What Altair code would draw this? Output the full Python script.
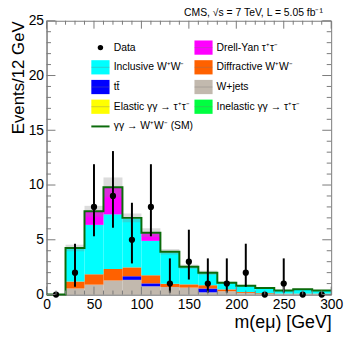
import altair as alt
import pandas as pd

# ---------------- data ----------------
bin_lo = [0, 20, 40, 60, 80, 100, 120, 140, 160, 180, 200, 220, 240, 260, 280]
bin_width = 20

wjets = [0, 0.55, 0.90, 1.28, 1.34, 0.75, 0.69, 0.63, 0.20, 0.30, 0.15, 0.05, 0.05, 0.05, 0.05]
ttbar = [0, 0, 0, 0, 0.33, 0.27, 0, 0, 0.35, 0, 0, 0, 0, 0, 0]
diffractive = [0, 0.64, 0.95, 1.05, 0.81, 0.74, 0.29, 0.30, 0.30, 0.17, 0.08, 0.07, 0.03, 0.03, 0.03]
inclusive = [0, 3.01, 4.51, 4.99, 4.47, 3.14, 2.87, 1.57, 1.10, 0.58, 0.55, 0.46, 0.26, 0.38, 0.26]
drellyan = [0, 0, 1.19, 2.42, 0, 0.70, 0, 0, 0, 0, 0, 0, 0, 0, 0]
elastic_tt = [0] * 15
inelastic_tt = [0] * 15
ggww_sm = [0, 0.05, 0.05, 0.05, 0.05, 0.05, 0.05, 0.03, 0.03, 0.02, 0.02, 0.02, 0.02, 0.02, 0.02]
syst = [0, 0.30, 0.50, 0.90, 0.40, 0.40, 0.25, 0.20, 0.20, 0.10, 0.08, 0.05, 0.05, 0.05, 0.05]

data_counts = [0, 2, 8, 9, 5, 8, 1, 3, 1, 1, 2, 0, 1, 0, 0]
data_lo = [0, 0.71, 5.32, 6.10, 2.84, 5.32, 0.17, 1.37, 0.17, 0.17, 0.71, 0, 0.17, 0, 0]
data_hi = [0, 4.64, 11.9, 13.1, 8.38, 11.9, 3.30, 5.92, 3.30, 3.30, 4.64, 0, 3.30, 0, 0]

comp_names = ["W+jets", "tt\u0304", "Diffractive W\u207aW\u207b", "Inclusive W\u207aW\u207b",
              "Drell-Yan \u03c4\u207a\u03c4\u207b", "Elastic \u03b3\u03b3 \u2192 \u03c4\u207a\u03c4\u207b",
              "Inelastic \u03b3\u03b3 \u2192 \u03c4\u207a\u03c4\u207b"]
comp_values = [wjets, ttbar, diffractive, inclusive, drellyan, elastic_tt, inelastic_tt]
comp_colors = ["#C2B9AE", "#0000FF", "#FF6100", "#00FFFF", "#FF00FF", "#FFFF00", "#00FF40"]
line_label = "\u03b3\u03b3 \u2192 W\u207aW\u207b (SM)"

# legend layout
legend_rows = [
    ("Data", 1, 0, "point"),
    ("Drell-Yan \u03c4\u207a\u03c4\u207b", 2, 0, "rect"),
    ("Inclusive W\u207aW\u207b", 1, 1, "rect"),
    ("Diffractive W\u207aW\u207b", 2, 1, "rect"),
    ("tt\u0304", 1, 2, "rect"),
    ("W+jets", 2, 2, "rect"),
    ("Elastic \u03b3\u03b3 \u2192 \u03c4\u207a\u03c4\u207b", 1, 3, "rect"),
    ("Inelastic \u03b3\u03b3 \u2192 \u03c4\u207a\u03c4\u207b", 2, 3, "rect"),
    (line_label, 1, 4, "line"),
]

# ---------------- build tables ----------------
W, H = 288, 277
XMAX, YMAX = 300, 25
FONT = "Liberation Sans"
AX = "#7a7a7a"

rects = []
cum = [0.0] * len(bin_lo)
for name, vals in zip(comp_names, comp_values):
    for i, v in enumerate(vals):
        if v > 0:
            rects.append(dict(comp=name, x=bin_lo[i], x2=bin_lo[i] + bin_width,
                              y=cum[i], y2=cum[i] + v))
        cum[i] += v
total = [c + g for c, g in zip(cum, ggww_sm)]
rect_df = pd.DataFrame(rects)

band_df = pd.DataFrame([dict(x=bin_lo[i], x2=bin_lo[i] + bin_width,
                             lo=total[i] - syst[i], hi=total[i] + syst[i])
                        for i in range(len(bin_lo)) if total[i] > 0])

line_df = pd.DataFrame(dict(x=bin_lo + [bin_lo[-1] + bin_width], y=total + [total[-1]]))

pts_df = pd.DataFrame(dict(x=[b + bin_width / 2 for b in bin_lo], n=data_counts,
                           lo=data_lo, hi=data_hi))
err_df = pts_df[pts_df["hi"] > 0]

xs = alt.Scale(domain=[0, XMAX], nice=False, zero=False)
ys = alt.Scale(domain=[0, YMAX], nice=False, zero=False)
color_scale = alt.Scale(domain=comp_names, range=comp_colors)

axis_style = dict(grid=False, ticks=False, domainColor=AX, labelFontSize=14, labelFont=FONT,
                  labelColor="black", labelFlush=False, titleFont=FONT,
                  titleFontWeight="normal", titleColor="black", labelPadding=3)
x_axis = alt.Axis(values=list(range(0, 301, 50)), title="m(e\u03bc) [GeV]", titleFontSize=18,
                  titleAnchor="end", titlePadding=2, **axis_style)
y_axis = alt.Axis(values=list(range(0, 26, 5)), title="Events/12 GeV", titleFontSize=17,
                  titleAnchor="end", titlePadding=1, **axis_style)

stack = alt.Chart(rect_df).mark_rect().encode(
    x=alt.X("x:Q", scale=xs, axis=x_axis),
    x2="x2:Q",
    y=alt.Y("y:Q", scale=ys, axis=y_axis),
    y2="y2:Q",
    color=alt.Color("comp:N", scale=color_scale, legend=None),
)

band = alt.Chart(band_df).mark_rect(fill="#8a8a8a", opacity=0.3).encode(
    x=alt.X("x:Q", scale=xs, axis=x_axis), x2="x2:Q",
    y=alt.Y("lo:Q", scale=ys, axis=y_axis), y2="hi:Q")

outline = alt.Chart(line_df).mark_line(interpolate="step-after", color="#0b6b0b",
                                       strokeWidth=2).encode(
    x=alt.X("x:Q", scale=xs, axis=x_axis), y=alt.Y("y:Q", scale=ys, axis=y_axis))

errbars = alt.Chart(err_df).mark_rule(color="black", strokeWidth=2).encode(
    x=alt.X("x:Q", scale=xs, axis=x_axis), y=alt.Y("lo:Q", scale=ys, axis=y_axis), y2="hi:Q")

points = alt.Chart(pts_df).mark_circle(color="black", size=40, opacity=1).encode(
    x=alt.X("x:Q", scale=xs, axis=x_axis), y=alt.Y("n:Q", scale=ys, axis=y_axis))

# ticks (inside, on all four sides)
ymaj = pd.DataFrame(dict(v=list(range(0, 26, 5))))
ymin = pd.DataFrame(dict(v=[v for v in range(0, 26) if v % 5]))
xmaj = pd.DataFrame(dict(v=list(range(0, 301, 50))))
xmin = pd.DataFrame(dict(v=[v for v in range(0, 301, 10) if v % 50]))


def yticks(df, ln):
    base = alt.Chart(df).mark_rule(color=AX, strokeWidth=1)
    return (base.encode(y=alt.Y("v:Q", scale=ys, axis=y_axis), x=alt.value(0), x2=alt.value(ln)) +
            base.encode(y=alt.Y("v:Q", scale=ys, axis=y_axis), x=alt.value(W), x2=alt.value(W - ln)))


def xticks(df, ln):
    base = alt.Chart(df).mark_rule(color=AX, strokeWidth=1)
    return (base.encode(x=alt.X("v:Q", scale=xs, axis=x_axis), y=alt.value(H), y2=alt.value(H - ln)) +
            base.encode(x=alt.X("v:Q", scale=xs, axis=x_axis), y=alt.value(0), y2=alt.value(ln)))


ticks = yticks(ymaj, 9) + yticks(ymin, 4.5) + xticks(xmaj, 8) + xticks(xmin, 4)

# legend (placed inside the frame, in data coordinates)
col_sw = {1: (47.2, 66.4), 2: (155.9, 175.0)}
col_tx = {1: 70.8, 2: 179.2}
row_y = [22.55, 20.75, 18.95, 17.15, 15.35]
half_h = 0.65
leg = []
for label, col, row, kind in legend_rows:
    leg.append(dict(label=label, kind=kind, sx=col_sw[col][0], sx2=col_sw[col][1],
                    sxc=(col_sw[col][0] + col_sw[col][1]) / 2, tx=col_tx[col],
                    yc=row_y[row], ylo=row_y[row] - half_h, yhi=row_y[row] + half_h))
leg_df = pd.DataFrame(leg)

leg_rect = alt.Chart(leg_df[leg_df.kind == "rect"]).mark_rect().encode(
    x=alt.X("sx:Q", scale=xs, axis=x_axis), x2="sx2:Q",
    y=alt.Y("ylo:Q", scale=ys, axis=y_axis), y2="yhi:Q",
    color=alt.Color("label:N", scale=color_scale, legend=None))
leg_mid = alt.Chart(leg_df[leg_df.kind == "rect"]).mark_rule(color="#777", strokeWidth=0.6,
                                                          opacity=0.6).encode(
    x=alt.X("sx:Q", scale=xs, axis=x_axis), x2="sx2:Q", y=alt.Y("yc:Q", scale=ys, axis=y_axis))
leg_pt = alt.Chart(leg_df[leg_df.kind == "point"]).mark_circle(color="black", size=30,
                                                             opacity=1).encode(
    x=alt.X("sxc:Q", scale=xs, axis=x_axis), y=alt.Y("yc:Q", scale=ys, axis=y_axis))
leg_line = alt.Chart(leg_df[leg_df.kind == "line"]).mark_rule(color="#0b6b0b",
                                                            strokeWidth=2).encode(
    x=alt.X("sx:Q", scale=xs, axis=x_axis), x2="sx2:Q", y=alt.Y("yc:Q", scale=ys, axis=y_axis))
leg_text = alt.Chart(leg_df).mark_text(align="left", baseline="middle", fontSize=10.5,
                                       font=FONT, color="black").encode(
    x=alt.X("tx:Q", scale=xs, axis=x_axis), y=alt.Y("yc:Q", scale=ys, axis=y_axis),
    text="label:N")

chart = alt.layer(
    stack, band, outline, errbars, points, ticks,
    leg_rect, leg_mid, leg_pt, leg_line, leg_text,
).properties(
    width=W, height=H,
    background="white",
    padding={"left": 39, "top": 11, "right": 15, "bottom": 36},
    autosize=alt.AutoSizeParams(type="none"),
    title=alt.TitleParams("CMS, \u221as = 7 TeV, L = 5.05 fb\u207b\u00b9", anchor="end",
                          fontSize=10.5, font=FONT, fontWeight="normal", color="black",
                          dx=-20, dy=6, offset=1),
).configure_view(stroke=AX, strokeWidth=1)

chart.save("out.html", embed_options={"renderer": "svg", "actions": False})
